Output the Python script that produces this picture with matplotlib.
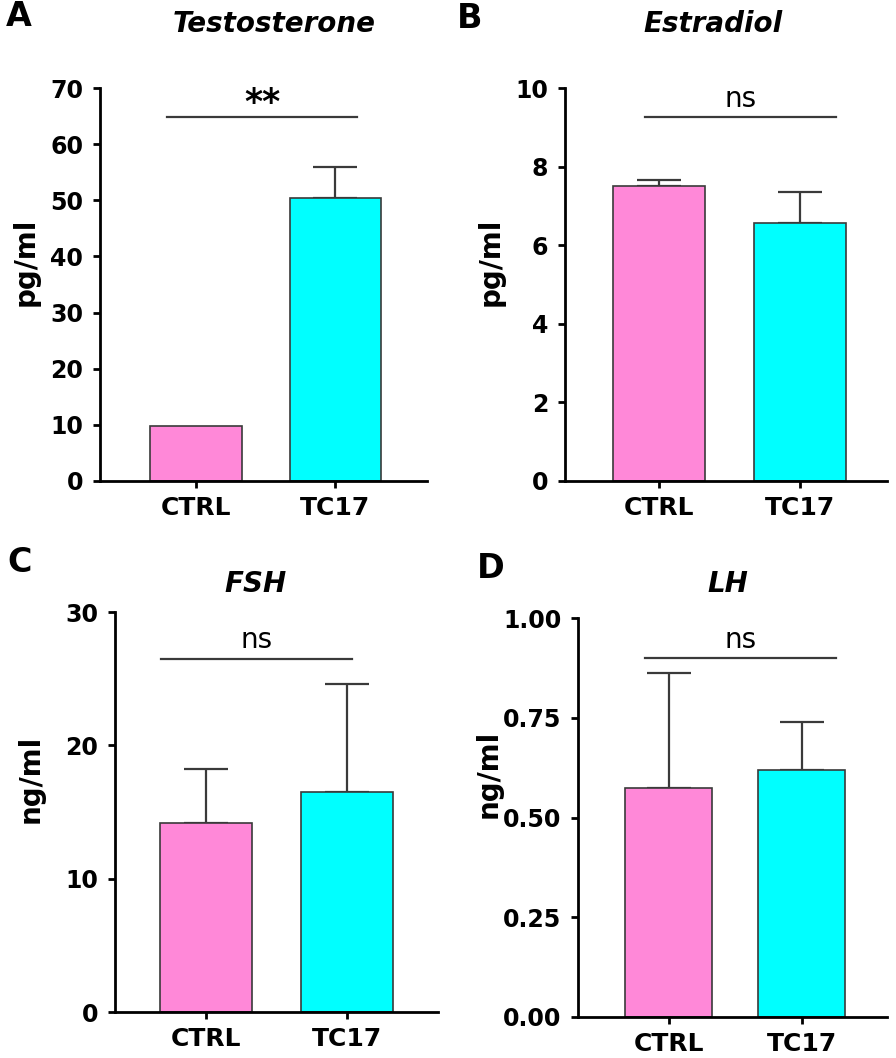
import matplotlib
matplotlib.use("Agg")
import matplotlib.pyplot as plt
from matplotlib.ticker import FormatStrFormatter

W, H = 896, 1058
plt.rcParams['font.family'] = ['DejaVu Sans']

groups = ["CTRL", "TC17"]
titles = ["Testosterone", "Estradiol", "FSH", "LH"]
panel_letters = ["A", "B", "C", "D"]
units = ["pg/ml", "pg/ml", "ng/ml", "ng/ml"]

testosterone_mean = [9.8, 50.4]
testosterone_err = [0.0, 5.6]
estradiol_mean = [7.5, 6.57]
estradiol_err = [0.16, 0.78]
fsh_mean = [14.2, 16.5]
fsh_err = [4.0, 8.1]
lh_mean = [0.575, 0.618]
lh_err = [0.288, 0.121]

significance = ["**", "ns", "ns", "ns"]
sig_height = [64.8, 9.26, 26.5, 0.90]
y_max = [70, 10, 30, 1.0]
y_ticks = [[0, 10, 20, 30, 40, 50, 60, 70],
           [0, 2, 4, 6, 8, 10],
           [0, 10, 20, 30],
           [0.0, 0.25, 0.50, 0.75, 1.00]]

means = [testosterone_mean, estradiol_mean, fsh_mean, lh_mean]
errs = [testosterone_err, estradiol_err, fsh_err, lh_err]

# layout (pixels)
axes_px = [(100, 427, 88, 481), (565, 887, 88, 481),
           (115, 438, 612, 1012), (578, 887, 618, 1017)]
xlims = [(-0.69, 1.66), (-0.67, 1.62), (-0.65, 1.65), (-0.68, 1.64)]
sig_x = [(-0.21, 1.16), (-0.10, 1.26), (-0.32, 1.04), (-0.18, 1.26)]
letter_px = [(6, 17), (457, 18), (7, 563), (477, 569)]
title_px = [(274, 24), (713, 24), (256, 584), (728, 584)]
ylabel_px = [(26, 262), (491, 262), (31, 779), (489, 774)]

colors = ["#FF88D8", "#00FFFF"]
edge = "#3a3a3a"

fig = plt.figure(figsize=(W / 100, H / 100), dpi=100)


def fx(x):
    return x / W


def fy(y):
    return 1 - y / H


for i in range(4):
    l, r, t, b = axes_px[i]
    ax = fig.add_axes([fx(l), fy(b), (r - l) / W, (b - t) / H])
    xs = list(range(len(groups)))
    ax.bar(xs, means[i], width=0.655, color=colors, edgecolor=edge,
           linewidth=1.2, zorder=2)
    for j in xs:
        if errs[i][j] > 0:
            ax.errorbar([j], [means[i][j]], yerr=[[0], [errs[i][j]]],
                        fmt='none', ecolor=edge, elinewidth=1.6,
                        capsize=16, capthick=1.6, zorder=1)
    ax.set_xlim(*xlims[i])
    ax.set_ylim(0, y_max[i])
    ax.set_yticks(y_ticks[i])
    if i == 3:
        ax.yaxis.set_major_formatter(FormatStrFormatter('%.2f'))
    ax.set_xticks(xs)
    ax.set_xticklabels(groups)
    for s in ["top", "right"]:
        ax.spines[s].set_visible(False)
    for s in ["left", "bottom"]:
        ax.spines[s].set_linewidth(2.0)
        ax.spines[s].set_color("black")
    ax.tick_params(axis='y', direction='out', length=5, width=2.0,
                   labelsize=17, pad=7)
    ax.tick_params(axis='x', direction='out', length=5, width=2.0,
                   labelsize=18, pad=6)
    for lab in ax.get_xticklabels() + ax.get_yticklabels():
        lab.set_fontweight('bold')
    # significance
    x0, x1 = sig_x[i]
    ax.plot([x0, x1], [sig_height[i], sig_height[i]], color=edge,
            linewidth=1.6, clip_on=False)
    if significance[i] == "**":
        ax.annotate(significance[i], xy=((x0 + x1) / 2, sig_height[i]),
                    xytext=(0, -2), textcoords='offset points', ha='center',
                    va='bottom', fontsize=25, fontweight='bold',
                    annotation_clip=False)
    else:
        ax.annotate(significance[i], xy=((x0 + x1) / 2, sig_height[i]),
                    xytext=(0, 3), textcoords='offset points', ha='center',
                    va='bottom', fontsize=20, annotation_clip=False)
    # texts
    fig.text(fx(letter_px[i][0]), fy(letter_px[i][1]), panel_letters[i],
             fontsize=24, fontweight='bold', ha='left', va='center')
    fig.text(fx(title_px[i][0]), fy(title_px[i][1]), titles[i],
             fontsize=20, fontweight='bold', fontstyle='italic',
             ha='center', va='center')
    fig.text(fx(ylabel_px[i][0]), fy(ylabel_px[i][1]), units[i],
             fontsize=20, fontweight='bold', rotation=90,
             ha='center', va='center')

fig.savefig("out.png", dpi=100)
